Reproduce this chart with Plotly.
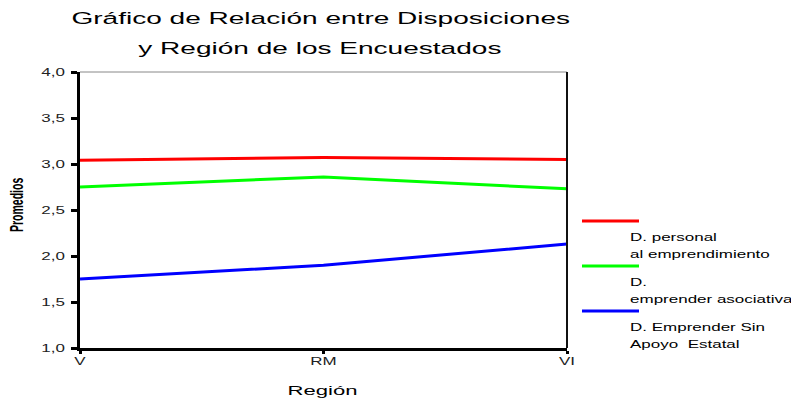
import json
import plotly.graph_objects as go

# Regions on the x axis
regiones = ["V", "RM", "VI"]

# Mean scores per disposition
d_personal = [3.04, 3.07, 3.05]
d_asociativa = [2.75, 2.86, 2.73]
d_sin_apoyo = [1.75, 1.90, 2.13]

y_ticks = [1.0, 1.5, 2.0, 2.5, 3.0, 3.5, 4.0]
y_tick_text = ["1,0", "1,5", "2,0", "2,5", "3,0", "3,5", "4,0"]

series = [
    (d_personal, "#ff0000", ["D. personal", "al emprendimiento"]),
    (d_asociativa, "#00ff00", ["D.", "emprender asociativa"]),
    (d_sin_apoyo, "#0000ff", ["D. Emprender Sin", "Apoyo  Estatal"]),
]

W, H = 791, 401
L, R, T, B = 80, 224, 72, 53
STRETCH = 1.7  # horizontal widening of the lettering

x_pos = list(range(len(regiones)))

fig = go.Figure()
for vals, color, _ in series:
    fig.add_trace(go.Scatter(
        x=x_pos, y=vals, mode="lines",
        line=dict(color=color, width=3),
        showlegend=False, hoverinfo="skip",
    ))

font = "Liberation Sans, Arial, sans-serif"

fig.update_layout(
    width=W, height=H,
    margin=dict(l=L, r=R, t=T, b=B),
    paper_bgcolor="white", plot_bgcolor="white",
    showlegend=False,
    font=dict(family=font, color="#000000"),
    xaxis=dict(
        range=[0, len(regiones) - 1],
        tickvals=x_pos, ticktext=regiones,
        showgrid=False, zeroline=False,
        showline=True, linecolor="#000000", linewidth=2.5,
        ticks="outside", ticklen=3, tickwidth=3, tickcolor="#000000",
        ticklabelstandoff=-1,
        tickfont=dict(size=10, color="#222222"),
    ),
    yaxis=dict(
        range=[1, 4],
        tickvals=y_ticks, ticktext=y_tick_text,
        showgrid=False, zeroline=False,
        showline=True, linecolor="#000000", linewidth=2.5,
        ticks="outside", ticklen=6, tickwidth=3, tickcolor="#000000",
        ticklabelstandoff=4,
        tickfont=dict(size=10, color="#222222"),
    ),
)

# Frame: thin grey top edge and dark right edge
fig.add_shape(type="line", xref="paper", yref="paper", x0=0, x1=1, y0=1, y1=1,
              line=dict(color="#888888", width=1))
fig.add_shape(type="line", xref="paper", yref="paper", x0=1, x1=1, y0=0, y1=1,
              line=dict(color="#111111", width=2))


def px_x(px):
    return (px - L) / (W - L - R)


def px_y(py):
    return 1 - (py - T) / (H - T - B)


# (sx, sy, anchor) for each annotation, in insertion order
ann_stretch = []

# Title (two lines)
for txt, yy in [("Gráfico de Relación entre Disposiciones", 18),
                ("y Región de los Encuestados", 48)]:
    fig.add_annotation(text=txt, xref="paper", yref="paper",
                       x=px_x(320), y=px_y(yy),
                       showarrow=False, xanchor="center", yanchor="middle",
                       font=dict(size=16.5, color="#000000", family=font))
    ann_stretch.append([STRETCH, 1, "center"])

# Axis titles
fig.add_annotation(text="Región", xref="paper", yref="paper",
                   x=px_x(322), y=px_y(390),
                   showarrow=False, xanchor="center", yanchor="middle",
                   font=dict(size=13, color="#000000", family=font))
ann_stretch.append([STRETCH, 1, "center"])

fig.add_annotation(text="<b>Promedios</b>", xref="paper", yref="paper",
                   x=px_x(16), y=px_y(205),
                   showarrow=False, xanchor="center", yanchor="middle",
                   textangle=-90,
                   font=dict(size=10.5, color="#000000", family=font))
ann_stretch.append([1, STRETCH, "center"])

# Legend: line keys with stacked labels underneath
key_y = [221, 266, 311]
for (vals, color, labels), ky in zip(series, key_y):
    fig.add_shape(type="line", xref="paper", yref="paper",
                  x0=px_x(582), x1=px_x(639), y0=px_y(ky), y1=px_y(ky),
                  line=dict(color=color, width=3))
    for i, lab in enumerate(labels):
        fig.add_annotation(text=lab, xref="paper", yref="paper",
                           x=px_x(628), y=px_y(ky + 16 + 17 * i),
                           showarrow=False, xanchor="left", yanchor="middle",
                           font=dict(size=10, color="#000000", family=font))
        ann_stretch.append([STRETCH, 1, "left"])

post_js = """
var gd = document.getElementById('{plot_id}');
var annSpec = ANN_SPEC;
var k = KVAL;
function widen(el, sx, sy, anchor) {
  var b = el.getBBox();
  var px = anchor === 'left' ? b.x : (anchor === 'right' ? b.x + b.width : b.x + b.width / 2);
  var py = b.y + b.height / 2;
  var t = el.getAttribute('transform') || '';
  el.setAttribute('transform', t + ' translate(' + px + ',' + py + ') scale(' + sx + ',' + sy + ') translate(' + (-px) + ',' + (-py) + ')');
}
gd.querySelectorAll('g.annotation').forEach(function (g) {
  var i = parseInt(g.getAttribute('data-index'));
  var s = annSpec[i];
  var txt = g.querySelector('text');
  if (s && txt) { widen(txt, s[0], s[1], s[2]); }
});
gd.querySelectorAll('.xtick text').forEach(function (el) { widen(el, k, 1, 'center'); });
gd.querySelectorAll('.ytick text').forEach(function (el) { widen(el, k, 1, 'right'); });
""".replace("ANN_SPEC", json.dumps(ann_stretch)).replace("KVAL", str(STRETCH))

fig.write_html("out.html", post_script=post_js)
